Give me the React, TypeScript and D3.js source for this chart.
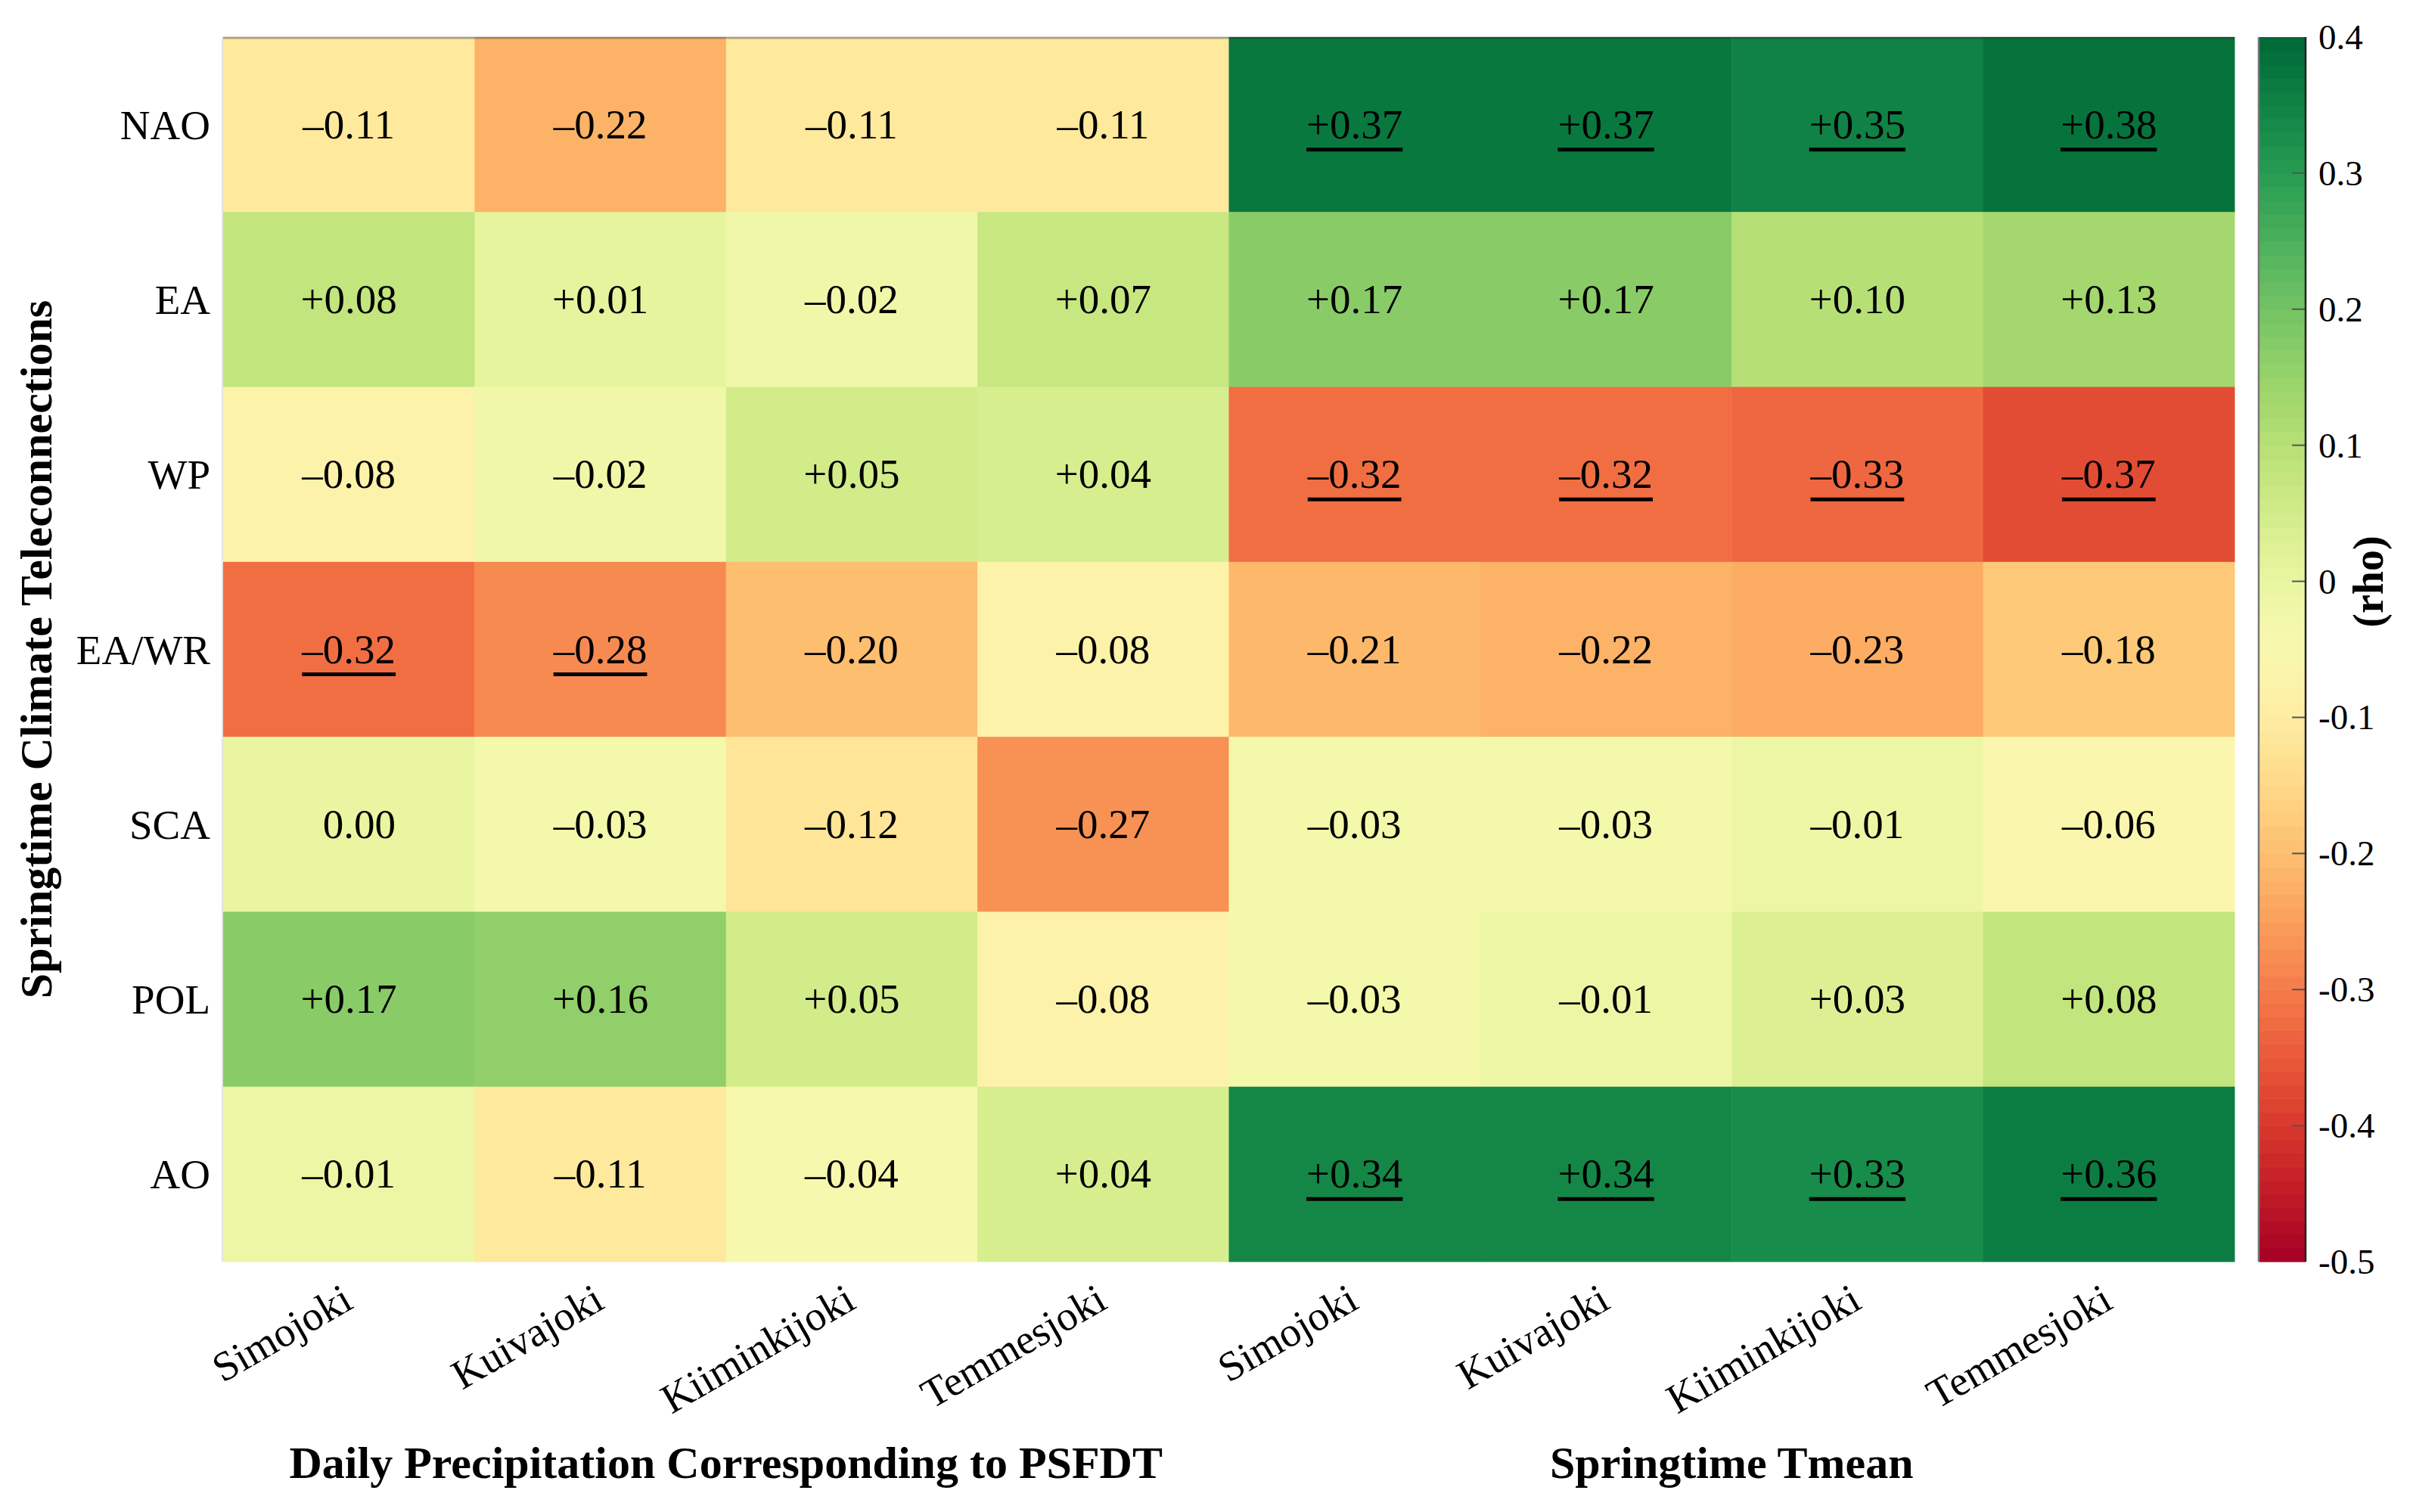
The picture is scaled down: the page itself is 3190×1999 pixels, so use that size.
import React, { useEffect, useRef } from "react";
import * as d3 from "d3";

const indices = ["NAO", "EA", "WP", "EA/WR", "SCA", "POL", "AO"];
const rivers = ["Simojoki", "Kuivajoki", "Kiiminkijoki", "Temmesjoki"];
const groupTitles = ["Daily Precipitation Corresponding to PSFDT", "Springtime Tmean"];

// Spearman rho, rows = teleconnection index, cols = river
const precipRho = [
  [-0.11, -0.22, -0.11, -0.11],
  [0.08, 0.01, -0.02, 0.07],
  [-0.08, -0.02, 0.05, 0.04],
  [-0.32, -0.28, -0.2, -0.08],
  [0.0, -0.03, -0.12, -0.27],
  [0.17, 0.16, 0.05, -0.08],
  [-0.01, -0.11, -0.04, 0.04],
];
const tmeanRho = [
  [0.37, 0.37, 0.35, 0.38],
  [0.17, 0.17, 0.1, 0.13],
  [-0.32, -0.32, -0.33, -0.37],
  [-0.21, -0.22, -0.23, -0.18],
  [-0.03, -0.03, -0.01, -0.06],
  [-0.03, -0.01, 0.03, 0.08],
  [0.34, 0.34, 0.33, 0.36],
];
// underlined = significant
const precipSig = [
  [0, 0, 0, 0],
  [0, 0, 0, 0],
  [0, 0, 0, 0],
  [1, 1, 0, 0],
  [0, 0, 0, 0],
  [0, 0, 0, 0],
  [0, 0, 0, 0],
];
const tmeanSig = [
  [1, 1, 1, 1],
  [0, 0, 0, 0],
  [1, 1, 1, 1],
  [0, 0, 0, 0],
  [0, 0, 0, 0],
  [0, 0, 0, 0],
  [1, 1, 1, 1],
];
const colorbarTicks = [0.4, 0.3, 0.2, 0.1, 0, -0.1, -0.2, -0.3, -0.4, -0.5];

const W = 3190;
const H = 1999;
const serif = "'Liberation Serif', 'Times New Roman', serif";

const fmt = (v: number) =>
  v === 0 ? "\u20020.00" : (v > 0 ? "+" : "\u2013") + Math.abs(v).toFixed(2);

export default function App() {
  const ref = useRef<SVGSVGElement>(null);

  useEffect(() => {
    const svg = d3.select(ref.current);
    svg.selectAll("*").remove();

    const left = 295, right = 2954, top = 49, bottom = 1668;
    const cols = d3.range(rivers.length * 2);
    const x = d3.scaleBand<number>().domain(cols).range([left, right]);
    const y = d3.scaleBand<string>().domain(indices).range([top, bottom]);
    const color = d3.scaleSequential(d3.interpolateRdYlGn).domain([-0.5, 0.4]);

    const cells = indices.flatMap((idx, i) =>
      cols.map((c) => {
        const isT = c >= rivers.length;
        const j = c % rivers.length;
        return {
          idx,
          c,
          v: isT ? tmeanRho[i][j] : precipRho[i][j],
          sig: isT ? tmeanSig[i][j] : precipSig[i][j],
        };
      })
    );

    svg
      .append("g")
      .selectAll("rect")
      .data(cells)
      .join("rect")
      .attr("x", (d) => x(d.c)!)
      .attr("y", (d) => y(d.idx)!)
      .attr("width", x.bandwidth() + 0.5)
      .attr("height", y.bandwidth() + 0.5)
      .attr("fill", (d) => color(d.v));

    // faint edges of the axes box
    svg
      .append("line")
      .attr("x1", left)
      .attr("x2", right)
      .attr("y1", top + 1)
      .attr("y2", top + 1)
      .attr("stroke", "#222")
      .attr("stroke-opacity", 0.35)
      .attr("stroke-width", 3);
    svg
      .append("line")
      .attr("x1", left - 1)
      .attr("x2", left - 1)
      .attr("y1", top)
      .attr("y2", bottom)
      .attr("stroke", "#e4e4e4")
      .attr("stroke-width", 2);

    const fs = 55;
    const labels = svg
      .append("g")
      .attr("font-family", serif)
      .attr("font-size", fs)
      .attr("text-anchor", "middle")
      .selectAll("g")
      .data(cells)
      .join("g")
      .attr(
        "transform",
        (d) => `translate(${x(d.c)! + x.bandwidth() / 2},${y(d.idx)! + y.bandwidth() / 2})`
      );
    labels
      .append("text")
      .attr("y", 18)
      .text((d) => fmt(d.v));
    labels
      .filter((d) => d.sig === 1)
      .each(function () {
        const g = d3.select(this);
        const w = (g.select("text").node() as SVGTextElement).getComputedTextLength();
        g.append("line")
          .attr("x1", -w / 2)
          .attr("x2", w / 2)
          .attr("y1", 33)
          .attr("y2", 33)
          .attr("stroke", "#000")
          .attr("stroke-width", 5);
      });

    // row labels
    svg
      .append("g")
      .attr("font-family", serif)
      .attr("font-size", fs)
      .attr("text-anchor", "end")
      .selectAll("text")
      .data(indices)
      .join("text")
      .attr("x", left - 17)
      .attr("y", (d) => y(d)! + y.bandwidth() / 2 + 19)
      .text((d) => d);

    // column labels
    svg
      .append("g")
      .attr("font-family", serif)
      .attr("font-size", 55)
      .attr("text-anchor", "end")
      .selectAll("text")
      .data(cols)
      .join("text")
      .attr(
        "transform",
        (c) => `translate(${x(c)! + x.bandwidth() / 2 + 8},${bottom + 60}) rotate(-30)`
      )
      .text((c) => rivers[c % rivers.length]);

    // group titles
    svg
      .append("g")
      .attr("font-family", serif)
      .attr("font-size", 60)
      .attr("font-weight", "bold")
      .attr("text-anchor", "middle")
      .selectAll("text")
      .data(groupTitles)
      .join("text")
      .attr("x", (_, g) => {
        const a = x(g * rivers.length)!;
        const b = x(g * rivers.length + rivers.length - 1)! + x.bandwidth();
        return (a + b) / 2;
      })
      .attr("y", 1954)
      .text((d) => d);

    svg
      .append("text")
      .attr("transform", `translate(68,${(top + bottom) / 2}) rotate(-90)`)
      .attr("font-family", serif)
      .attr("font-size", 60)
      .attr("font-weight", "bold")
      .attr("text-anchor", "middle")
      .text("Springtime Climate Teleconnections");

    // colorbar
    const cbX = 2986, cbW = 62;
    const cb = d3.scaleLinear().domain([-0.5, 0.4]).range([bottom, top]);
    const nBands = 90;
    const bands = d3.range(nBands).map((k) => -0.5 + (k * 0.9) / nBands);
    svg
      .append("g")
      .selectAll("rect")
      .data(bands)
      .join("rect")
      .attr("x", cbX)
      .attr("width", cbW)
      .attr("y", (b) => cb(b + 0.9 / nBands))
      .attr("height", (b) => cb(b) - cb(b + 0.9 / nBands) + 0.6)
      .attr("fill", (b) => color(b + 0.45 / nBands));
    svg
      .append("g")
      .selectAll("line")
      .data(colorbarTicks.filter((t) => t < 0.4 && t > -0.5))
      .join("line")
      .attr("x1", cbX + cbW - 18)
      .attr("x2", cbX + cbW)
      .attr("y1", (t) => cb(t))
      .attr("y2", (t) => cb(t))
      .attr("stroke", "#555")
      .attr("stroke-width", 2);
    svg
      .append("line")
      .attr("x1", cbX)
      .attr("x2", cbX)
      .attr("y1", top)
      .attr("y2", bottom)
      .attr("stroke", "#777")
      .attr("stroke-width", 2.5);
    svg
      .append("line")
      .attr("x1", cbX + cbW)
      .attr("x2", cbX + cbW)
      .attr("y1", top)
      .attr("y2", bottom)
      .attr("stroke", "#222")
      .attr("stroke-width", 2.5);
    svg
      .append("g")
      .attr("font-family", serif)
      .attr("font-size", 47)
      .selectAll("text")
      .data(colorbarTicks)
      .join("text")
      .attr("x", 3065)
      .attr("y", (t) => cb(t) + 16)
      .text((t) => (t === 0 ? "0" : String(t)));
    svg
      .append("text")
      .attr("transform", "translate(3150,769) rotate(-90)")
      .attr("font-family", serif)
      .attr("font-size", 56)
      .attr("font-weight", "bold")
      .attr("text-anchor", "middle")
      .text("(rho)");
  }, []);

  return (
    <svg
      ref={ref}
      width={W}
      height={H}
      style={{ position: "absolute", left: 0, top: 0, background: "#fff" }}
    />
  );
}
